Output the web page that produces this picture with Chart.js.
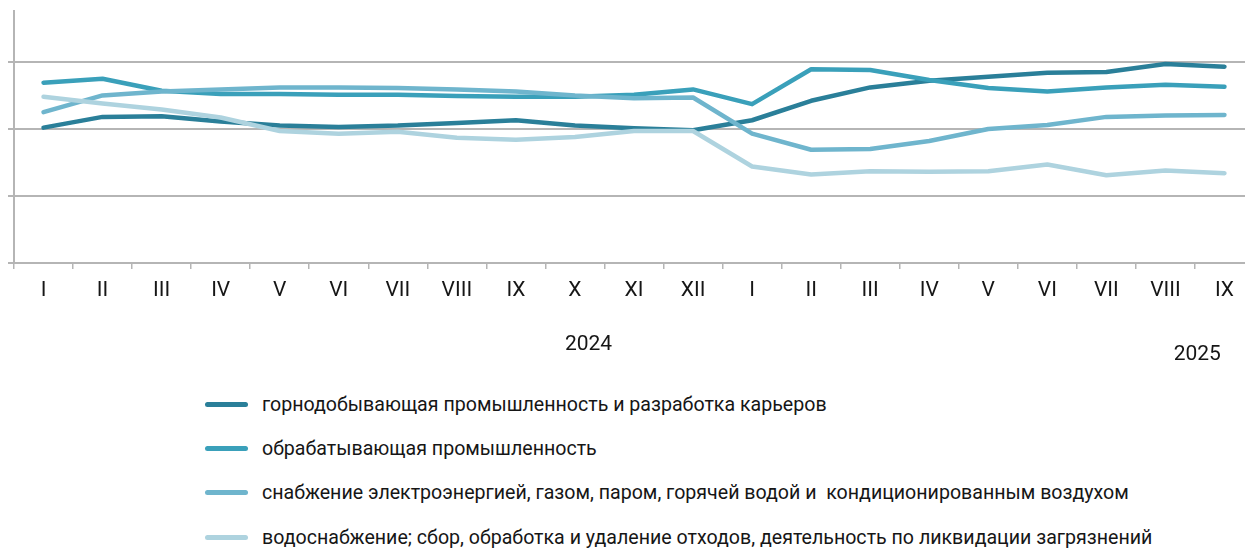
<!DOCTYPE html>
<html>
<head>
<meta charset="utf-8">
<script src="https://cdn.jsdelivr.net/npm/chart.js@4.4.1/dist/chart.umd.min.js"></script>
<style>
  html, body { margin: 0; padding: 0; background: #fff; overflow: hidden; }
  #wrap { position: relative; width: 1260px; height: 548px; }
  #chartBox { width: 1260px; height: 370px; }
  #legend { margin-top: 12px; padding-left: 205px; font-family: Roboto, sans-serif; font-size: 19.6px; color: #161616; }
  .row { height: 44.4px; display: flex; align-items: center; white-space: pre; }
  .swatch { width: 43px; height: 5px; border-radius: 3px; margin-right: 14px; }
</style>
</head>
<body>
<div id="wrap">
  <div id="chartBox"><canvas id="chart"></canvas></div>
  <div id="legend"></div>
</div>
<script>
// Months, Jan 2024 .. Sep 2025
const months = ["I","II","III","IV","V","VI","VII","VIII","IX","X","XI","XII",
                "I","II","III","IV","V","VI","VII","VIII","IX"];

const seriesNames = [
  "горнодобывающая промышленность и разработка карьеров",
  "обрабатывающая промышленность",
  "снабжение электроэнергией, газом, паром, горячей водой и  кондиционированным воздухом",
  "водоснабжение; сбор, обработка и удаление отходов, деятельность по ликвидации загрязнений"
];
const seriesColors = ["#2a7f99", "#3aa0ba", "#6fb5cd", "#aed3df"];

const mining = [100.2, 101.8, 101.9, 101.1, 100.5, 100.3, 100.5, 100.9, 101.3, 100.5, 100.1, 99.8,
                101.3, 104.2, 106.2, 107.2, 107.8, 108.4, 108.5, 109.7, 109.3];
const manufacturing = [106.9, 107.5, 105.7, 105.2, 105.2, 105.1, 105.1, 104.9, 104.8, 104.8, 105.1, 105.9,
                       103.7, 108.9, 108.8, 107.3, 106.1, 105.6, 106.2, 106.6, 106.3];
const electricity = [102.5, 105.0, 105.6, 105.9, 106.2, 106.2, 106.1, 105.9, 105.6, 105.0, 104.6, 104.7,
                     99.3, 96.9, 97.0, 98.2, 100.0, 100.6, 101.8, 102.0, 102.1];
const water = [104.8, 103.8, 102.9, 101.7, 99.7, 99.3, 99.6, 98.7, 98.4, 98.8, 99.7, 99.7,
               94.4, 93.2, 93.7, 93.6, 93.7, 94.7, 93.1, 93.8, 93.4];

// year labels sit under the month labels (position as index along the axis)
const years = [{ text: "2024", at: 9.23, dy: 82 }, { text: "2025", at: 19.54, dy: 92 }];

const yMin = 80, yMax = 117.6, yStep = 10;
const gridColor = "#b5b5b5";

const allValues = [mining, manufacturing, electricity, water];

const yearLabels = {
  id: "yearLabels",
  afterDraw(chart) {
    const ctx = chart.ctx;
    const x = chart.scales.x;
    ctx.save();
    ctx.font = "21px Roboto";
    ctx.fillStyle = "#161616";
    ctx.textAlign = "center";
    ctx.textBaseline = "middle";
    years.forEach(y => ctx.fillText(y.text, x.getPixelForValue(y.at), x.top + y.dy));
    ctx.restore();
  }
};

const chart = new Chart(document.getElementById("chart"), {
  type: "line",
  data: {
    labels: months,
    datasets: allValues.map((vals, i) => ({
      label: seriesNames[i],
      data: vals,
      borderColor: seriesColors[i],
      backgroundColor: seriesColors[i],
      borderWidth: 4.5,
      borderCapStyle: "round",
      borderJoinStyle: "round",
      pointRadius: 0,
      tension: 0,
      order: 3 - i
    }))
  },
  options: {
    responsive: true,
    maintainAspectRatio: false,
    animation: false,
    layout: { padding: { left: 8, top: 11, right: 6, bottom: 0 } },
    plugins: { legend: { display: false }, tooltip: { enabled: false } },
    scales: {
      x: {
        offset: true,
        grid: { offset: true, drawOnChartArea: false, drawTicks: true, tickLength: 6, color: gridColor, lineWidth: 1.5 },
        border: { color: gridColor, width: 2 },
        ticks: { color: "#161616", font: { family: "Roboto", size: 21 }, padding: 9, maxRotation: 0, autoSkip: false },
        afterFit(scale) { scale.height = 107; }
      },
      y: {
        min: yMin,
        max: yMax,
        ticks: { display: false, stepSize: yStep },
        grid: {
          tickLength: 6,
          lineWidth: 2,
          color: c => (c.tick && c.tick.value % yStep === 0) ? gridColor : "rgba(0,0,0,0)"
        },
        border: { color: gridColor, width: 2 }
      }
    }
  },
  plugins: [yearLabels]
});

// legend, one item per row
const legendEl = document.getElementById("legend");
seriesNames.forEach((name, i) => {
  const row = document.createElement("div");
  row.className = "row";
  const sw = document.createElement("span");
  sw.className = "swatch";
  sw.style.background = seriesColors[i];
  const txt = document.createElement("span");
  txt.textContent = name;
  row.appendChild(sw);
  row.appendChild(txt);
  legendEl.appendChild(row);
});
</script>
</body>
</html>
